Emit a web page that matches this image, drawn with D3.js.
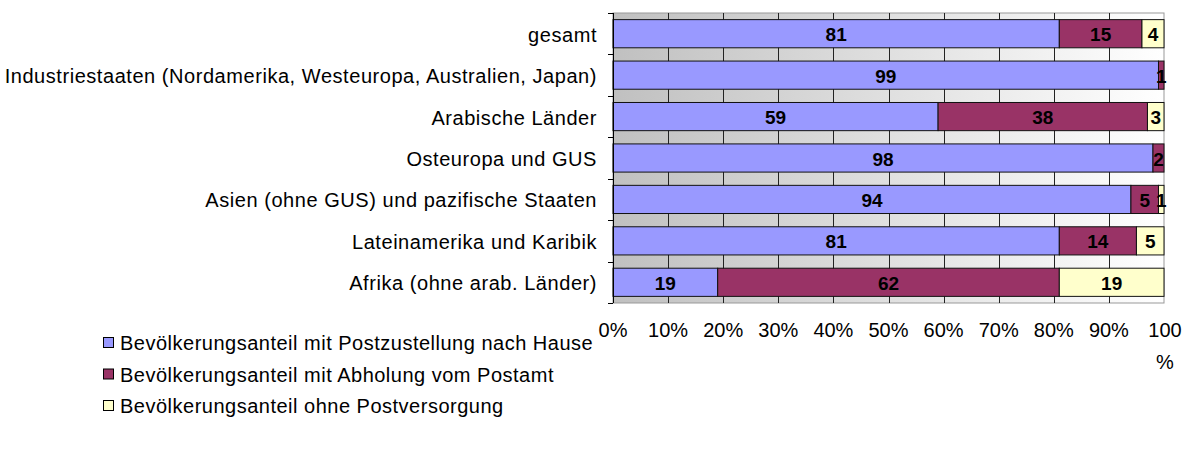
<!DOCTYPE html>
<html><head><meta charset="utf-8">
<script src="https://cdn.jsdelivr.net/npm/d3@7"></script>
<style>body{margin:0;background:#fff;}svg{display:block;font-family:"Liberation Sans",Arial,sans-serif;}</style>
</head><body><svg id="c" width="1187" height="454"></svg>
<script>
const categories = ["gesamt","Industriestaaten (Nordamerika, Westeuropa, Australien, Japan)","Arabische Länder","Osteuropa und GUS","Asien (ohne GUS) und pazifische Staaten","Lateinamerika und Karibik","Afrika (ohne arab. Länder)"];
const seriesNames = ["Bevölkerungsanteil mit Postzustellung nach Hause","Bevölkerungsanteil mit Abholung vom Postamt","Bevölkerungsanteil ohne Postversorgung"];
const homeDelivery = [81,99,59,98,94,81,19];
const postOffice = [15,1,38,2,5,14,62];
const noService = [4,0,3,0,1,5,19];
const tickValues = [0,10,20,30,40,50,60,70,80,90,100];
const colors = ["#9999ff","#993366","#ffffcc"];

const svg = d3.select("#c");
const L = 613, R = 1164, T = 13, B = 303;
const x = d3.scaleLinear().domain([0,100]).range([L,R]);
const y = d3.scaleBand().domain(categories).range([T,B]).paddingInner(0.32).paddingOuter(0.16);

const defs = svg.append("defs");
const g = defs.append("linearGradient").attr("id","bg").attr("x1","0%").attr("x2","100%");
g.append("stop").attr("offset","0%").attr("stop-color","#c0c0c0");
g.append("stop").attr("offset","100%").attr("stop-color","#ffffff");

svg.append("rect").attr("x",L).attr("y",T).attr("width",R-L).attr("height",B-T).attr("fill","url(#bg)").attr("stroke","#999").attr("stroke-width",1);

svg.append("g").selectAll("line").data(tickValues.slice(1,-1)).join("line")
  .attr("x1",d=>Math.round(x(d))+0.5).attr("x2",d=>Math.round(x(d))+0.5)
  .attr("y1",T).attr("y2",B).attr("stroke","#222").attr("stroke-width",1);

const series = [homeDelivery, postOffice, noService];
const stacked = categories.map((c,i)=>{let acc=0;return series.map((s,k)=>{const v=s[i];const r={cat:c,k,v,x0:acc,x1:acc+v};acc+=v;return r;});}).flat().filter(d=>d.v>0);

svg.append("g").selectAll("rect").data(stacked).join("rect")
  .attr("x",d=>x(d.x0)).attr("width",d=>x(d.x1)-x(d.x0))
  .attr("y",d=>y(d.cat)).attr("height",y.bandwidth())
  .attr("fill",d=>colors[d.k]).attr("stroke","#111").attr("stroke-width",1);

svg.append("g").selectAll("text").data(stacked).join("text")
  .attr("x",d=>(x(d.x0)+x(d.x1))/2).attr("y",d=>y(d.cat)+y.bandwidth()/2+1)
  .attr("text-anchor","middle").attr("dominant-baseline","central")
  .attr("font-size",19).attr("font-weight","bold").attr("fill","#000").text(d=>d.v);

// y axis
svg.append("line").attr("x1",L+0.5).attr("x2",L+0.5).attr("y1",T).attr("y2",B).attr("stroke","#000");
const bounds = d3.range(categories.length+1).map(i=>T+i*(B-T)/categories.length);
svg.append("g").selectAll("line").data(bounds).join("line")
  .attr("x1",L-5).attr("x2",L).attr("y1",d=>Math.round(d)+0.5).attr("y2",d=>Math.round(d)+0.5).attr("stroke","#000");
svg.append("g").selectAll("text").data(categories).join("text")
  .attr("x",597).attr("y",d=>y(d)+y.bandwidth()/2+1)
  .attr("text-anchor","end").attr("dominant-baseline","central").attr("font-size",20)
  .attr("letter-spacing","0.55px").attr("fill","#000").text(d=>d);

// x tick labels
const xt = svg.append("g").selectAll("text").data(tickValues).join("text")
  .attr("x",d=>x(d)).attr("y",337).attr("text-anchor","middle").attr("font-size",20).attr("fill","#000");
xt.each(function(d){
  const t=d3.select(this);
  if(d===100){t.append("tspan").attr("x",x(d)+1).text("100");t.append("tspan").attr("x",x(d)+1).attr("dy",32).text("%");}
  else t.text(d+"%");
});

// legend
const lg = svg.append("g").selectAll("g").data(seriesNames).join("g").attr("transform",(d,i)=>`translate(103,${343+i*31.5})`);
lg.append("rect").attr("x",0.5).attr("y",-5.5).attr("width",10).attr("height",10).attr("fill",(d,i)=>colors[i]).attr("stroke","#000");
lg.append("text").attr("x",17).attr("y",0).attr("dominant-baseline","central").attr("font-size",20)
  .attr("letter-spacing","0.5px").attr("fill","#000").text(d=>d);
</script></body></html>
